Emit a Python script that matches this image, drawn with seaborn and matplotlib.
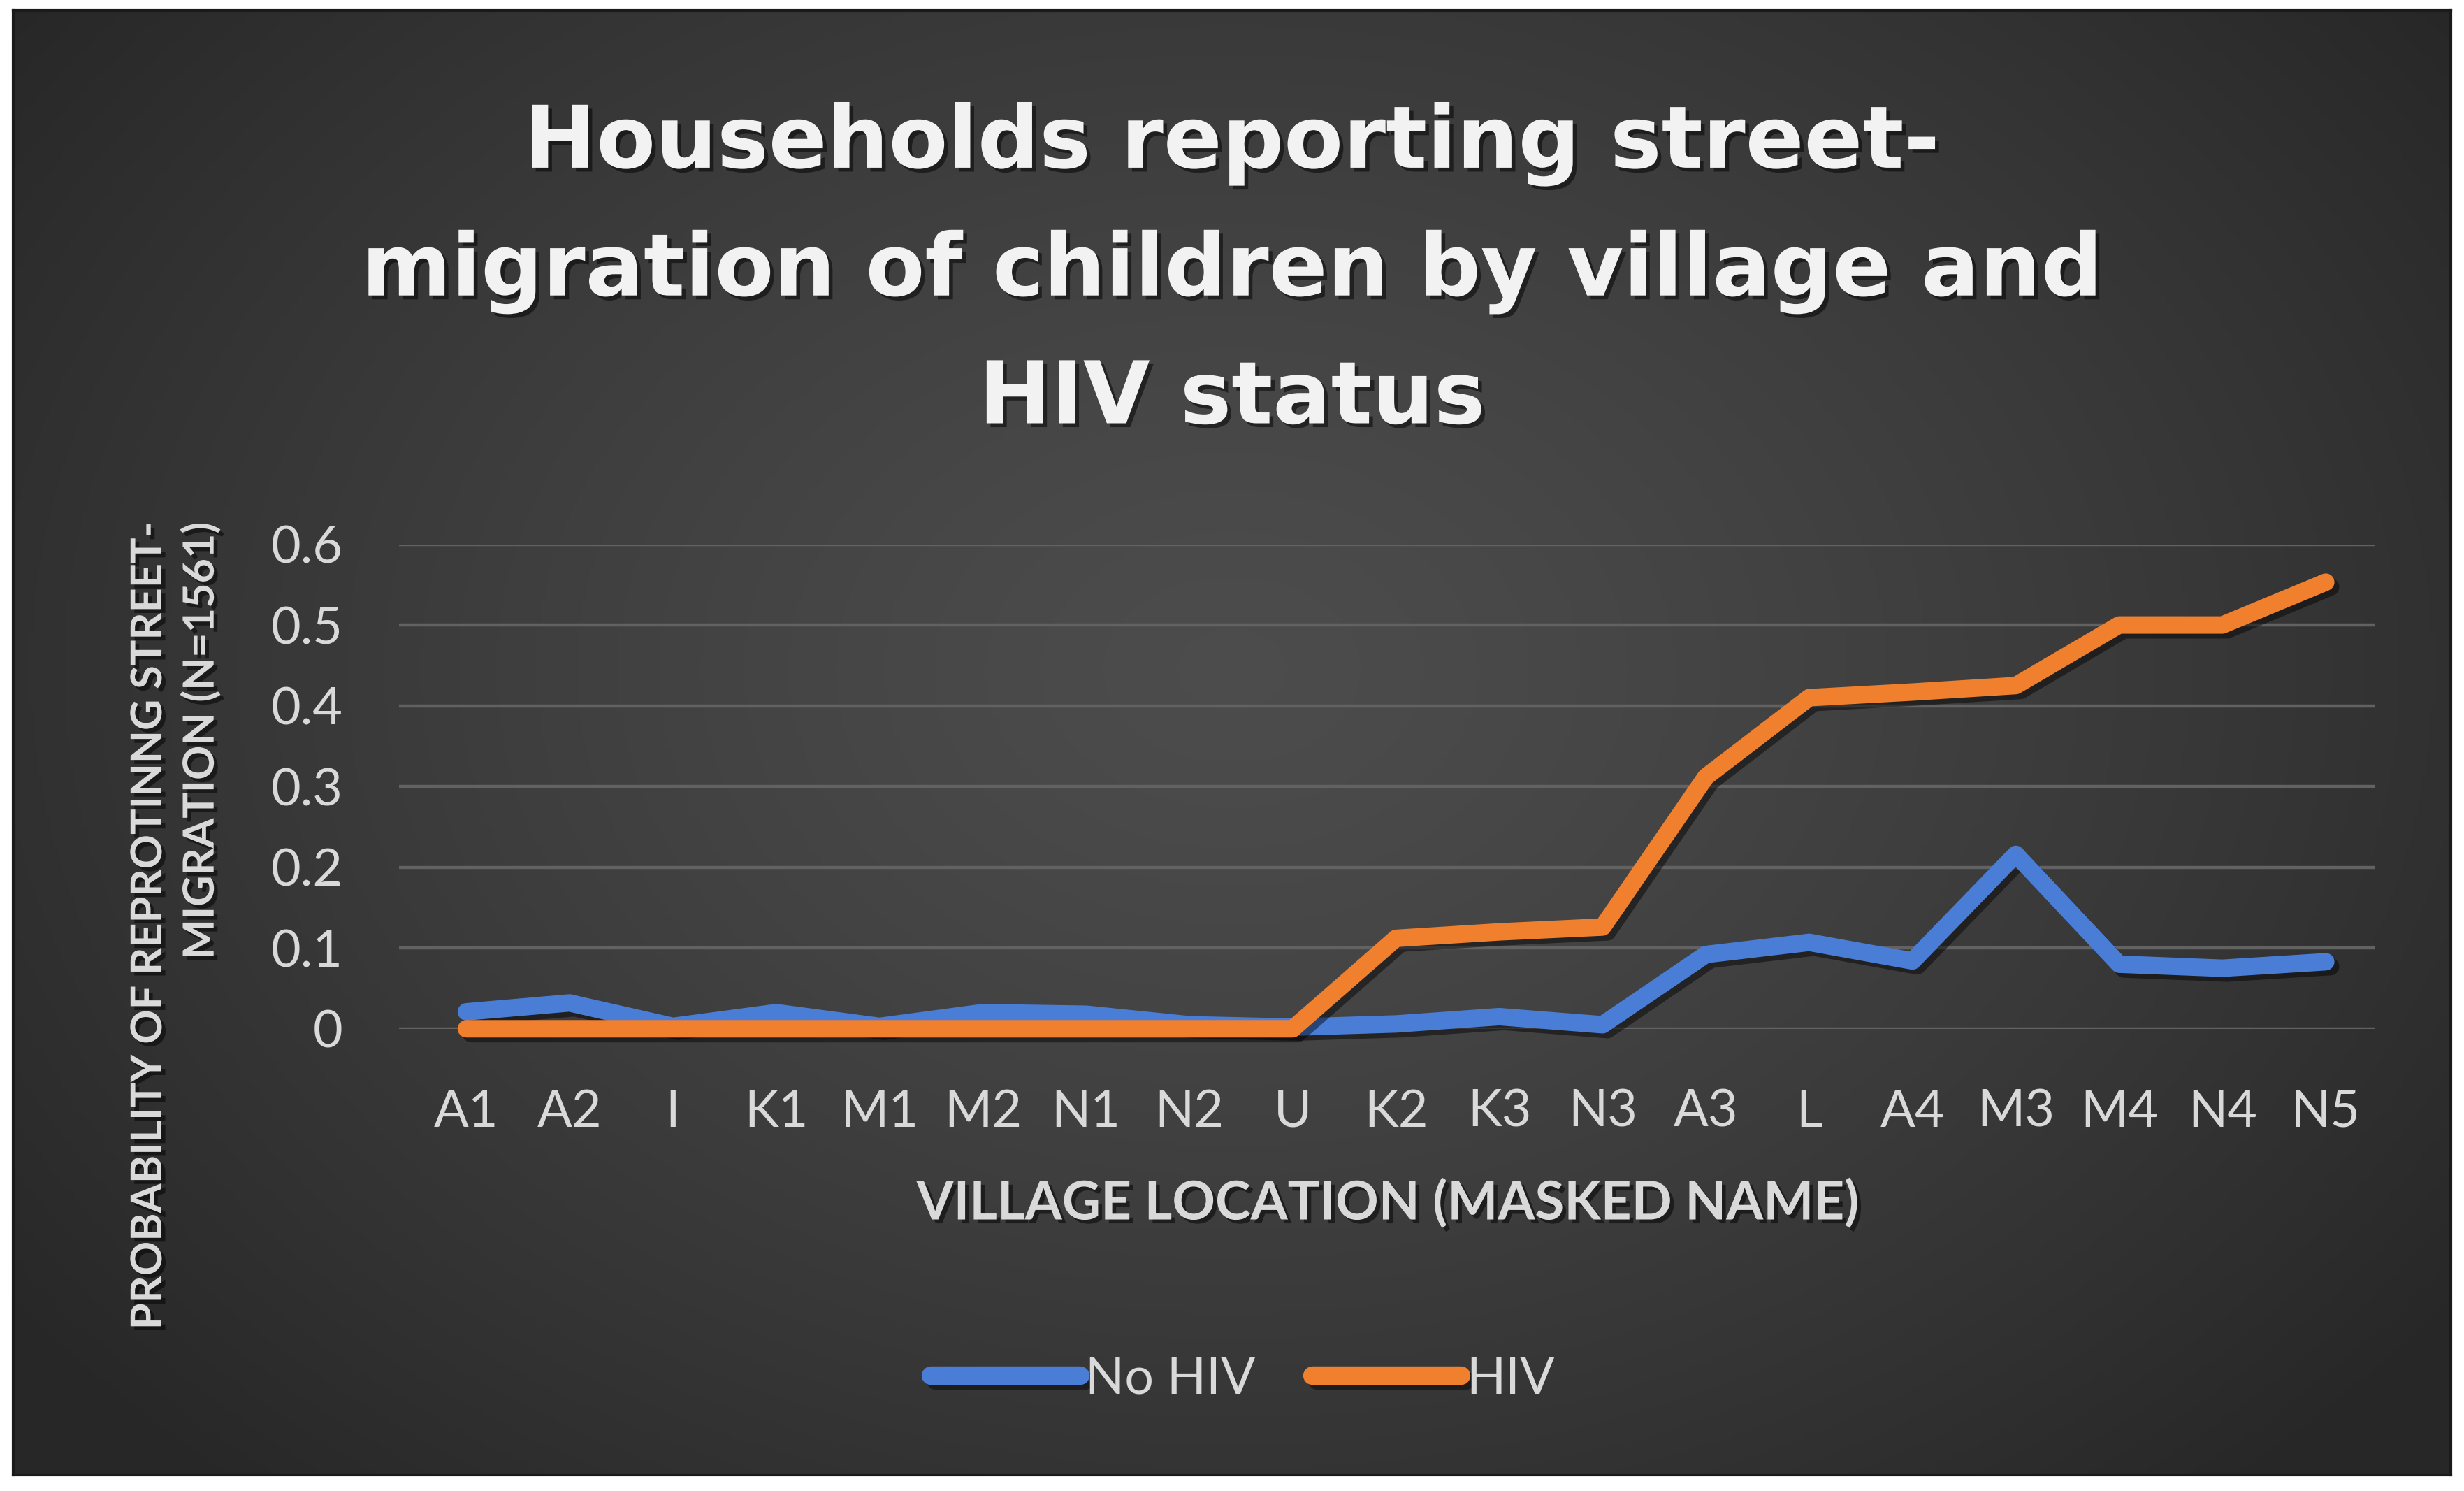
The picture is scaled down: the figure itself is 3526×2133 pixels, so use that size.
import numpy as np
import pandas as pd
import matplotlib
matplotlib.use("Agg")
import matplotlib.pyplot as plt
import matplotlib.patheffects as pe
import seaborn as sns

# data
villages = ["A1", "A2", "I", "K1", "M1", "M2", "N1", "N2", "U", "K2",
            "K3", "N3", "A3", "L", "A4", "M3", "M4", "N4", "N5"]
no_hiv = [0.021, 0.032, 0.003, 0.020, 0.003, 0.020, 0.018, 0.005, 0.002, 0.006,
          0.015, 0.005, 0.092, 0.107, 0.084, 0.216, 0.080, 0.075, 0.083]
hiv = [0.0, 0.0, 0.0, 0.0, 0.0, 0.0, 0.0, 0.0, 0.0, 0.112,
       0.120, 0.126, 0.312, 0.410, 0.417, 0.425, 0.500, 0.500, 0.553]
series_names = ["No HIV", "HIV"]
yticks = [0, 0.1, 0.2, 0.3, 0.4, 0.5, 0.6]

df = pd.DataFrame({
    "village": villages * 2,
    "pos": list(range(len(villages))) * 2,
    "value": no_hiv + hiv,
    "status": [series_names[0]] * len(villages) + [series_names[1]] * len(villages),
})

sns.set_style("dark")
plt.rcParams["font.family"] = ["Lato", "DejaVu Sans"]

fig = plt.figure(figsize=(17.63, 10.665), dpi=200, facecolor="white")

# dark gradient background panel
bg = fig.add_axes([0.0054, 0.011, 0.9892, 0.982], zorder=0)
u, v = np.meshgrid(np.linspace(0, 1, 600), np.linspace(0, 1, 400))
d = np.sqrt(((u - 0.5) / 0.62) ** 2 + ((v - 0.45) / 0.75) ** 2)
g = 0.30 - (0.30 - 0.155) * np.clip(d, 0, 1) ** 1.3
bg.imshow(np.dstack([g, g, g]), aspect="auto", extent=[0, 1, 0, 1], origin="upper")
bg.set_xticks([])
bg.set_yticks([])
for s in bg.spines.values():
    s.set_color("#1a1a1a")
    s.set_linewidth(1.5)

ax = fig.add_axes([0.162, 0.310, 0.802, 0.325], zorder=1)
ax.set_facecolor("none")

palette = {"No HIV": "#4a7dd6", "HIV": "#f0802e"}
sns.lineplot(data=df, x="pos", y="value", hue="status", hue_order=series_names,
             palette=palette, linewidth=9, ax=ax, legend=True, clip_on=False,
             solid_capstyle="round")
for line in ax.lines:
    line.set_path_effects([pe.SimpleLineShadow(offset=(2.5, -2.5), shadow_color="black", alpha=0.45),
                           pe.Normal()])

ax.set_xlim(-0.65, 18.48)
ax.set_ylim(0, 0.6)
ax.set_xticks(range(len(villages)))
ax.set_xticklabels(villages)
ax.set_yticks(yticks)
ax.set_yticklabels(["0" if t == 0 else f"{t:.1f}" for t in yticks])
ax.tick_params(axis="x", length=0, pad=31, labelsize=26.5, labelcolor="#d9d9d9")
ax.tick_params(axis="y", length=0, pad=29, labelsize=26.5, labelcolor="#d9d9d9")
ax.grid(axis="y", color="#626262", linewidth=1.6)
ax.grid(axis="x", visible=False)
for s in ax.spines.values():
    s.set_visible(False)
ax.set_xlabel("")
ax.set_ylabel("")

shadow = [pe.withSimplePatchShadow(offset=(2, -2), shadow_rgbFace="black", alpha=0.5)]

fig.text(0.5, 0.818, "Households reporting street-\nmigration of children by village and\nHIV status",
         ha="center", va="center", multialignment="center", fontsize=44.5,
         fontweight="bold", family=["DejaVu Sans"], color="#f2f2f2",
         linespacing=1.64, path_effects=shadow)

# axis titles centred on the plot area, as in the reference
fig.text(0.563, 0.193, "VILLAGE LOCATION (MASKED NAME)", ha="center", va="center",
         fontsize=27.5, fontweight="bold", color="#d9d9d9", path_effects=shadow)

fig.text(0.071, 0.379, "PROBABILITY OF REPROTINNG STREET-\nMIGRATION (N=1561)",
         ha="center", va="center", rotation=90, multialignment="right",
         fontsize=22, fontweight="bold", color="#d9d9d9", linespacing=1.35,
         path_effects=shadow)

handles, labels = ax.get_legend_handles_labels()
ax.legend_.remove()
leg = fig.legend(handles, labels, loc="center", bbox_to_anchor=(0.5045, 0.075),
                 ncol=2, frameon=False, fontsize=26.5, handlelength=2.9,
                 handletextpad=0.1, columnspacing=1.1, labelcolor="#d9d9d9")
for h in leg.legend_handles:
    h.set_linewidth(9.5)
    h.set_solid_capstyle("round")

fig.savefig("out.png", dpi=200, facecolor="white")
